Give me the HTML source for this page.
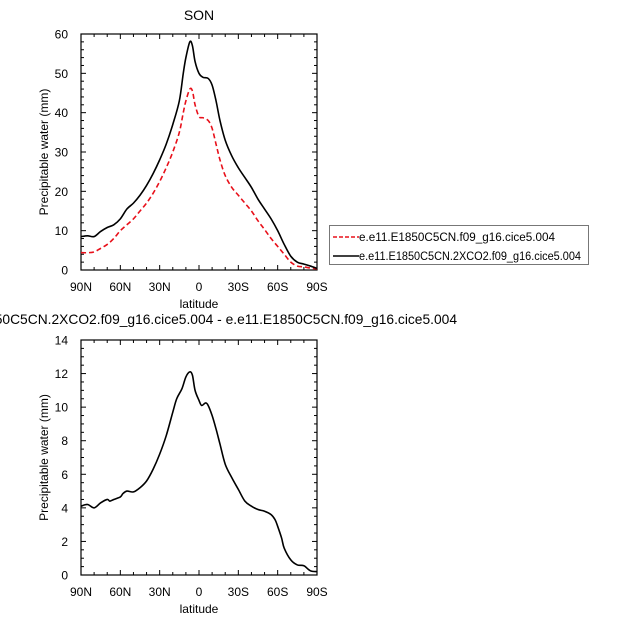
<!DOCTYPE html>
<html><head><meta charset="utf-8"><style>body{margin:0;background:#fff}svg{display:block;font-family:"Liberation Sans",Arial,sans-serif}</style></head>
<body>
<svg id="c" width="621" height="621"></svg>
<script>
const lats = [90,85,80,75,70,65,60,55,50,45,40,35,30,25,20,15,12,10,7,5,3,0,-3,-7,-10,-13,-16,-20,-25,-30,-35,-40,-45,-50,-55,-60,-65,-70,-75,-80,-85,-90];
const ctrl = [4.4,4.4,4.6,5.5,6.5,8,10,11.5,13,15,17,19.5,22.5,26,30,35,40,43,46,45.5,42,39,38.7,38,36,32,28,24,21,19,17,15,12.5,10.3,8,6,4,2,1,0.8,0.5,0.3];
const co2 = [8.5,8.7,8.5,9.8,10.8,11.5,13,15.5,17,19,21.5,24.5,28,32,37,43,50,54,58,57,53,50,49,48.7,47,43,38,33,29,26,23.5,21,18,15.5,13,10,6.5,3.5,2,1.5,1,0.4];
const diffLats = [90,85,80,75,70,68,65,60,58,55,50,45,40,35,30,25,20,17,13,10,7,5,3,0,-2,-5,-7,-10,-13,-16,-20,-25,-30,-35,-40,-45,-50,-55,-58,-60,-63,-65,-70,-75,-80,-85,-90];
const diff = [4.1,4.2,4.0,4.3,4.5,4.4,4.5,4.65,4.85,5.0,4.95,5.2,5.6,6.3,7.2,8.3,9.7,10.5,11.1,11.8,12.1,11.9,11.0,10.4,10.1,10.25,10.1,9.5,8.7,7.8,6.6,5.8,5.1,4.4,4.1,3.9,3.8,3.6,3.3,2.9,2.2,1.6,0.9,0.6,0.55,0.25,0.2];
const xTicks = [90,60,30,0,-30,-60,-90];
const xLabels = ["90N","60N","30N","0","30S","60S","90S"];
const yTicksTop = [0,10,20,30,40,50,60];
const yTicksBot = [0,2,4,6,8,10,12,14];

const svg = document.getElementById('c');
const NS = 'http://www.w3.org/2000/svg';
function el(tag, attrs, parent, text){const e=document.createElementNS(NS,tag);for(const k in attrs)e.setAttribute(k,attrs[k]);if(text!==undefined)e.textContent=text;(parent||svg).appendChild(e);return e;}
function smooth(pts){
  let d='M'+pts[0][0].toFixed(2)+','+pts[0][1].toFixed(2);
  for(let i=0;i<pts.length-1;i++){
    const p0=pts[Math.max(0,i-1)],p1=pts[i],p2=pts[i+1],p3=pts[Math.min(pts.length-1,i+2)];
    const c1=[p1[0]+(p2[0]-p0[0])/6,p1[1]+(p2[1]-p0[1])/6];
    const c2=[p2[0]-(p3[0]-p1[0])/6,p2[1]-(p3[1]-p1[1])/6];
    d+='C'+c1.map(v=>v.toFixed(2)).join(',')+' '+c2.map(v=>v.toFixed(2)).join(',')+' '+p2.map(v=>v.toFixed(2)).join(',');
  }
  return d;
}

function panel(name, top, bottom, ymax, yTicks, yMinorStep, series){
  const L=81, R=317;
  const g = el('g',{});
  
  
  const X = lat => L + (90-lat)/180*(R-L);
  const Y = v => bottom - v/ymax*(bottom-top);
  for(let lat=90;lat>=-90;lat-=10){
    const major = lat%30===0; const len = major?5:3;
    el('line',{x1:X(lat),x2:X(lat),y1:bottom,y2:bottom-len,stroke:'#000','stroke-width':1},g);
    el('line',{x1:X(lat),x2:X(lat),y1:top,y2:top+len,stroke:'#000','stroke-width':1},g);
  }
  for(let v=0;v<=ymax+1e-9;v+=yMinorStep){
    const major = yTicks.some(t=>Math.abs(t-v)<1e-6); const len = major?5:3;
    el('line',{x1:L,x2:L+len,y1:Y(v),y2:Y(v),stroke:'#000','stroke-width':1},g);
    el('line',{x1:R,x2:R-len,y1:Y(v),y2:Y(v),stroke:'#000','stroke-width':1},g);
  }
  const frame = el('rect',{x:L,y:top,width:R-L,height:bottom-top,fill:'none',stroke:'#000','stroke-width':1.2},g);
  
  
  xTicks.forEach((t,i)=>{
    const tx = el('text',{x:X(t),y:bottom+21,'font-size':12,'text-anchor':'middle'},g,xLabels[i]);
    
    
  });
  yTicks.forEach(t=>{
    const ty = el('text',{x:L-13,y:Y(t)+4.5,'font-size':12,'text-anchor':'end'},g,String(t));
    
    
  });
  const xt = el('text',{x:(L+R)/2,y:bottom+38,'font-size':12,'text-anchor':'middle'},g,'latitude');
  
  
  const yt = el('text',{x:0,y:0,'font-size':12,'text-anchor':'middle',transform:`translate(48,${(top+bottom)/2}) rotate(-90)`},g,'Precipitable water (mm)');
  
  
  series.forEach(s=>{
    const pts = s.lats.map((la,i)=>[X(la),Y(s.vals[i])]);
    const p = el('path',{d:smooth(pts),fill:'none',stroke:s.color,'stroke-width':1.6,'stroke-dasharray':s.dash||'none','stroke-linejoin':'round'},g);
    
    
  });
}
panel('top-panel',34,270,60,yTicksTop,2,[
  {lats:lats,vals:ctrl,color:'#e8101a',dash:'5,3',name:'control-series-line'},
  {lats:lats,vals:co2,color:'#000',name:'2xco2-series-line'}]);
panel('bottom-panel',340,575,14,yTicksBot,0.5,[
  {lats:diffLats,vals:diff,color:'#000',name:'difference-line'}]);

const t1 = el('text',{x:199,y:20,'font-size':14,'text-anchor':'middle'},svg,'SON');


const t2 = el('text',{x:457,y:324,'font-size':13.8,'text-anchor':'end'},svg,'e.e11.E1850C5CN.2XCO2.f09_g16.cice5.004 - e.e11.E1850C5CN.f09_g16.cice5.004');



const lg = el('g',{});


el('rect',{x:329.5,y:225.5,width:259,height:39,fill:'#fff',stroke:'#777','stroke-width':1},lg);
el('line',{x1:333,x2:359,y1:237,y2:237,stroke:'#e8101a','stroke-width':1.4,'stroke-dasharray':'4,2'},lg);
el('line',{x1:333,x2:359,y1:256,y2:256,stroke:'#000','stroke-width':1.4},lg);
const l1 = el('text',{x:359,y:241,'font-size':11.5,textLength:196,lengthAdjust:'spacingAndGlyphs'},lg,'e.e11.E1850C5CN.f09_g16.cice5.004');


const l2 = el('text',{x:359,y:260,'font-size':11.5,textLength:222,lengthAdjust:'spacingAndGlyphs'},lg,'e.e11.E1850C5CN.2XCO2.f09_g16.cice5.004');


</script>
</body></html>
